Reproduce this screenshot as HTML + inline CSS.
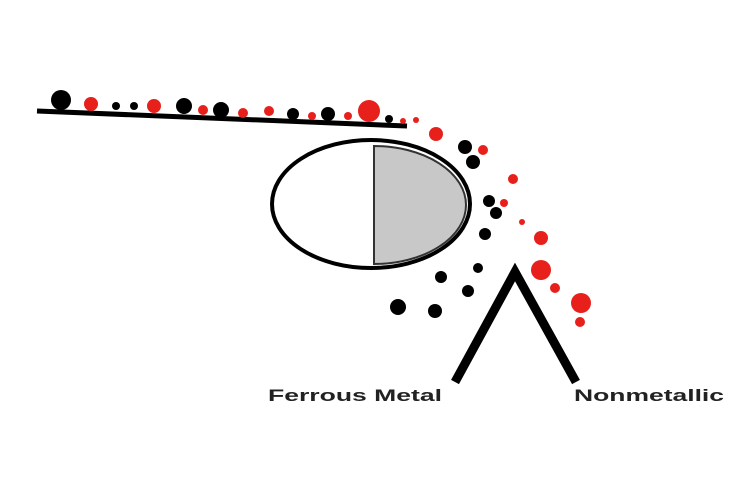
<!DOCTYPE html>
<html><head><style>html,body{margin:0;padding:0;background:#fff}svg{display:block}</style></head>
<body>
<svg width="729" height="500" viewBox="0 0 729 500" xmlns="http://www.w3.org/2000/svg">
<line x1="37" y1="111" x2="407" y2="126" stroke="#000" stroke-width="5"/>
<ellipse cx="371" cy="204" rx="99" ry="64" fill="#fff" stroke="#000" stroke-width="4"/>
<path d="M374,146 A92,59 0 0 1 374,264 Z" fill="#c8c8c8" stroke="#333" stroke-width="2"/>
<polyline points="455,382 515,272 576,382" fill="none" stroke="#000" stroke-width="9" stroke-linejoin="miter"/>
<g fill="#000">
<circle cx="61" cy="100" r="10"/><circle cx="116" cy="106" r="4"/><circle cx="134" cy="106" r="4"/>
<circle cx="184" cy="106" r="8"/><circle cx="221" cy="110" r="8"/><circle cx="293" cy="114" r="6"/>
<circle cx="328" cy="114" r="7"/><circle cx="389" cy="119" r="4"/>
<circle cx="465" cy="147" r="7"/><circle cx="473" cy="162" r="7"/><circle cx="489" cy="201" r="6"/>
<circle cx="496" cy="213" r="6"/><circle cx="485" cy="234" r="6"/><circle cx="478" cy="268" r="5"/>
<circle cx="441" cy="277" r="6"/><circle cx="468" cy="291" r="6"/><circle cx="398" cy="307" r="8"/><circle cx="435" cy="311" r="7"/>
</g>
<g fill="#e8201c">
<circle cx="91" cy="104" r="7"/><circle cx="154" cy="106" r="7"/><circle cx="203" cy="110" r="5"/>
<circle cx="243" cy="113" r="5"/><circle cx="269" cy="111" r="5"/><circle cx="312" cy="116" r="4"/>
<circle cx="348" cy="116" r="4"/><circle cx="369" cy="111" r="11"/><circle cx="403" cy="121" r="3"/><circle cx="416" cy="120" r="3"/>
<circle cx="436" cy="134" r="7"/><circle cx="483" cy="150" r="5"/><circle cx="513" cy="179" r="5"/>
<circle cx="504" cy="203" r="4"/><circle cx="522" cy="222" r="3"/><circle cx="541" cy="238" r="7"/>
<circle cx="541" cy="270" r="10"/><circle cx="555" cy="288" r="5"/><circle cx="581" cy="303" r="10"/><circle cx="580" cy="322" r="5"/>
</g>
<g font-family="Liberation Sans, sans-serif" font-weight="bold" font-size="17" fill="#222">
<text x="268" y="401" textLength="174" lengthAdjust="spacingAndGlyphs">Ferrous Metal</text>
<text x="574" y="401" textLength="150" lengthAdjust="spacingAndGlyphs">Nonmetallic</text>
</g>
</svg>
</body></html>
